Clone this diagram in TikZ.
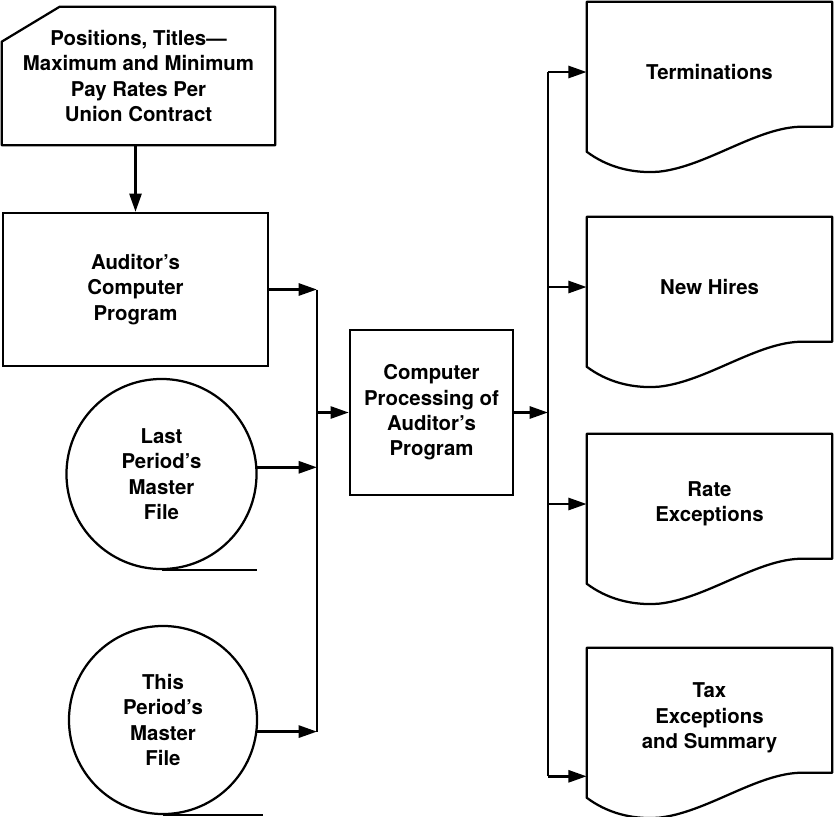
\documentclass[tikz,border=0pt]{standalone}
\usepackage{fontspec}
\setmainfont{TeX Gyre Heros}
\usetikzlibrary{arrows.meta,calc,positioning}

% outline of a printed report, hung on a (borderless) node
\newcommand{\reportoutline}[1]{%
  \draw[outline] (#1.north west) -- (#1.north east)
    -- ([shift={(0,125)}]#1.north east)
    -- ([shift={(-30,125)}]#1.north east)
    .. controls ([shift={(-75,125)}]#1.north east) and ([shift={(120,165)}]#1.north west) .. ([shift={(72,170)}]#1.north west)
    .. controls ([shift={(45,172)}]#1.north west) and ([shift={(20,165)}]#1.north west) .. ([shift={(0,150)}]#1.north west)
    -- cycle;}

\begin{document}
\begin{tikzpicture}[
    x=0.025cm, y=-0.025cm,
    every node/.style={font=\bfseries\fontsize{14.5}{18}\selectfont},
    outline/.style={line width=1.6pt, line join=round},
    plainbox/.style={rectangle, draw, line width=1.6pt, align=center, inner sep=0pt},
    cardbox/.style={rectangle, align=center, inner sep=0pt, minimum width=6.825cm, minimum height=3.45cm},
    tapefile/.style={circle, draw, line width=1.6pt, align=center, inner sep=0pt, minimum size=4.75cm},
    report/.style={rectangle, align=center, inner sep=0pt, minimum width=6.125cm, minimum height=3.5cm},
    bus/.style={line width=1.6pt},
    arrow/.style={-{Triangle[length=13pt,width=8.5pt]}, line width=2pt}
]
    \useasboundingbox (0,0) rectangle (834,816);

    % Input card
    \node[cardbox] (rates) at (138.5,76) {Positions, Titles—\\Maximum and Minimum\\Pay Rates Per\\Union Contract};
    \draw[outline] ([shift={(58,0)}]rates.north west) -- (rates.north east) -- (rates.south east)
        -- (rates.south west) -- ([shift={(0,35)}]rates.north west) -- cycle;

    % Program and master files
    \node[plainbox, minimum width=6.625cm, minimum height=3.825cm] (program) at (135.5,289.5) {Auditor's\\Computer\\Program};
    \node[tapefile] (lastfile) at (161.5,474) {Last\\Period's\\Master\\File};
    \node[tapefile, minimum size=4.7cm] (thisfile) at (163,720) {This\\Period's\\Master\\File};
    \draw[outline] (lastfile.south) -- ++(95,0);
    \draw[outline] (thisfile.south) -- ++(100,0);

    % Processing
    \node[plainbox, minimum width=4.075cm, minimum height=4.125cm] (process) at (431.5,412.5) {Computer\\Processing of\\Auditor's\\Program};

    % Reports
    \node[report] (term) at (709.5,72) {Terminations};
    \node[report] (hires) at (709.5,287) {New Hires};
    \node[report] (rate) at (709.5,504) {Rate\\Exceptions};
    \node[report] (tax) at (709.5,718) {Tax\\Exceptions\\and Summary};
    \foreach \r in {term,hires,rate,tax} {\reportoutline{\r}}

    % Buses
    \coordinate (inbus) at (317,0);
    \coordinate (outbus) at (548,0);
    \coordinate (lastout) at (lastfile.4);
    \coordinate (thisout) at (thisfile.-7);
    \coordinate (taxin) at ([yshift=0.3cm]tax.south west);

    \draw[arrow] (rates.south -| program.north) -- (program.north);
    \draw[bus] (program.east -| inbus) -- (thisout -| inbus);
    \draw[arrow] (program.east) -- (program.east -| inbus);
    \draw[arrow] (lastout) -- (lastout -| inbus);
    \draw[arrow] (thisout) -- (thisout -| inbus);
    \draw[arrow] (process.west -| inbus) -- (process.west);

    \draw[arrow] (process.east) -- (process.east -| outbus);
    \draw[bus] (term.west -| outbus) -- (taxin -| outbus);
    \draw[arrow] (term.west -| outbus) -- (term.west);
    \draw[arrow] (hires.west -| outbus) -- (hires.west);
    \draw[arrow] (rate.west -| outbus) -- (rate.west);
    \draw[arrow] (taxin -| outbus) -- (taxin);
\end{tikzpicture}
\end{document}
